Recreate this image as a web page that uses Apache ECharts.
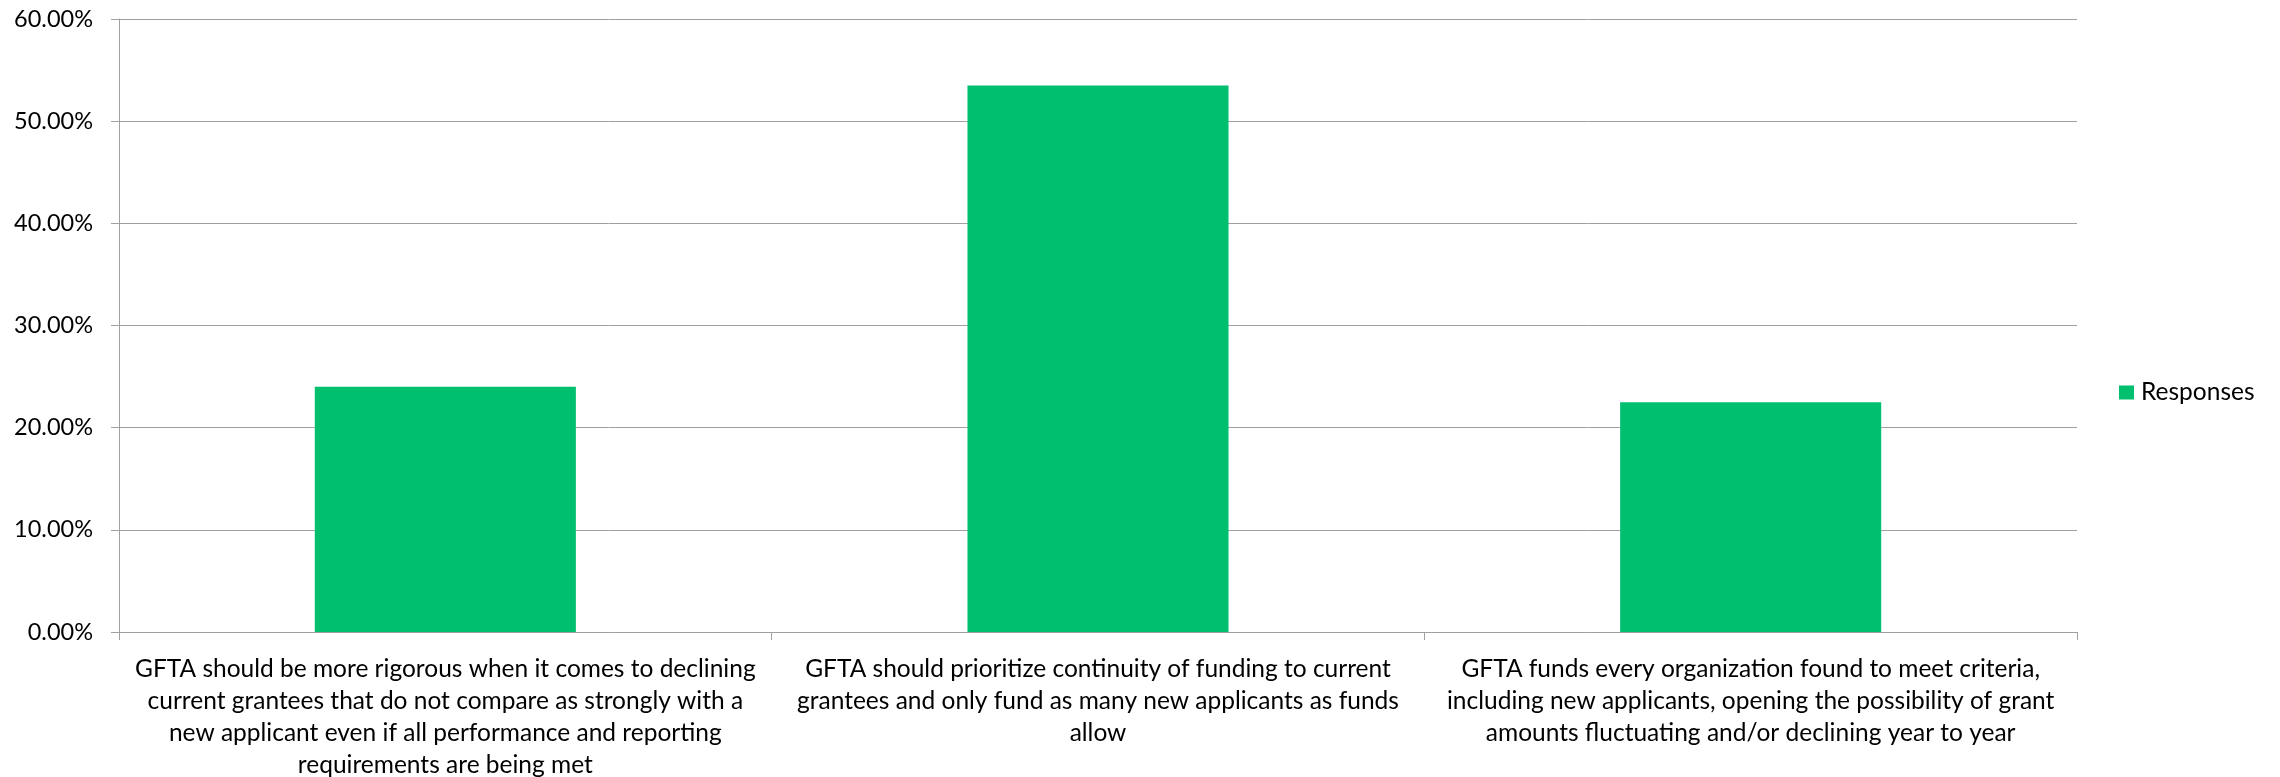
<!DOCTYPE html>
<html>
<head>
<meta charset="utf-8">
<script src="https://cdn.jsdelivr.net/npm/echarts@6/dist/echarts.min.js"></script>
<style>
  html, body { margin: 0; padding: 0; background: #fff; }
  #barCharts { width: 2280px; height: 777px; }
</style>
</head>
<body>
<div id="barCharts"></div>
<script>
// category labels, one array of lines per bar
const categoryLines = [
  ['GFTA should be more rigorous when it comes to declining',
   'current grantees that do not compare as strongly with a',
   'new applicant even if all performance and reporting',
   'requirements are being met'],
  ['GFTA should prioritize continuity of funding to current',
   'grantees and only fund as many new applicants as funds',
   'allow'],
  ['GFTA funds every organization found to meet criteria,',
   'including new applicants, opening the possibility of grant',
   'amounts fluctuating and/or declining year to year']
];
const seriesName = 'Responses';
const responses = [24.0, 53.5, 22.5];
const yMin = 0;
const yMax = 60;
const yStep = 10;

const categories = categoryLines.map(lines => lines.join('\n'));
const font = "'Lato', sans-serif";
const axisGrey = '#a0a0a0';

const myChart = echarts.init(document.getElementById('barCharts'));
myChart.setOption({
  animation: false,
  textStyle: { fontFamily: font, color: '#000' },
  grid: { left: 119, right: 203, top: 19, bottom: 145, containLabel: false, outerBoundsMode: 'none' },
  legend: {
    data: [seriesName],
    orient: 'vertical',
    left: 2119,
    top: 380,
    padding: 0,
    itemWidth: 15,
    itemHeight: 14,
    icon: 'rect',
    textStyle: { fontFamily: font, fontSize: 24.5, color: '#000', padding: [0, 0, 0, 2] }
  },
  xAxis: {
    type: 'category',
    data: categories,
    axisLine: { show: true, lineStyle: { color: axisGrey, width: 1 } },
    axisTick: { show: true, length: 8, alignWithLabel: false, lineStyle: { color: axisGrey } },
    axisLabel: {
      interval: 0,
      fontFamily: font,
      fontSize: 24.5,
      lineHeight: 32,
      color: '#000',
      margin: 21,
      align: 'center'
    }
  },
  yAxis: {
    type: 'value',
    min: yMin,
    max: yMax,
    interval: yStep,
    axisLine: { show: true, lineStyle: { color: axisGrey, width: 1 } },
    axisTick: { show: true, length: 8, lineStyle: { color: axisGrey } },
    splitLine: { show: true, lineStyle: { color: axisGrey, width: 1 } },
    axisLabel: {
      fontFamily: font,
      fontSize: 23.5,
      color: '#000',
      margin: 26,
      formatter: v => v.toFixed(2) + '%'
    }
  },
  series: [{
    name: seriesName,
    type: 'bar',
    data: responses,
    barWidth: '40%',
    itemStyle: { color: '#00bf6f' }
  }]
});
</script>
</body>
</html>
